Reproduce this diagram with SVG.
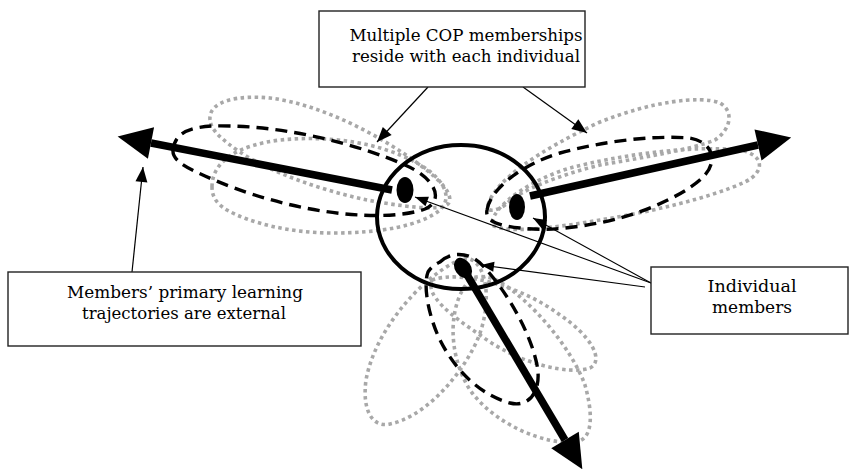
<svg xmlns="http://www.w3.org/2000/svg" width="849" height="469" viewBox="0 0 849 469">
<style>
.box{fill:#fff;stroke:#222;stroke-width:1.4}
.txt{font-family:"DejaVu Serif","Liberation Serif",serif;font-size:17px;fill:#000;text-anchor:middle}
.dot{fill:none;stroke:#a8a8a8;stroke-width:3.6;stroke-dasharray:3.5 3.5}
.dash{fill:none;stroke:#000;stroke-width:3.4;stroke-dasharray:12 7}
.thick{stroke:#000;stroke-width:7.5;fill:none;marker-end:url(#big)}
.thin{stroke:#000;stroke-width:1.2;fill:none;marker-end:url(#sm)}
.thin2{stroke:#000;stroke-width:1.1;fill:none;marker-end:url(#xs)}
</style>
<defs>
<marker id="big" markerUnits="userSpaceOnUse" markerWidth="36" markerHeight="34" refX="0" refY="16" orient="auto" overflow="visible">
<path d="M0,0 L34,16 L0,32 Z" fill="#000"/>
</marker>
<marker id="sm" markerUnits="userSpaceOnUse" markerWidth="16" markerHeight="12" refX="15" refY="6" orient="auto" overflow="visible">
<path d="M0,0 L15,6 L0,12 Z" fill="#000"/>
</marker>
<marker id="xs" markerUnits="userSpaceOnUse" markerWidth="13" markerHeight="10" refX="13" refY="5" orient="auto" overflow="visible">
<path d="M0,0 L13,5 L0,10 Z" fill="#000"/>
</marker>
</defs>
<rect width="849" height="469" fill="#fff"/>

<g id="cop-loops">
<path class="dot" d="M210,120 C208,100 240,95 270,98 C320,104 380,135 420,165 C440,180 455,195 448,204 C440,212 400,206 367,200 C320,190 270,172 240,152 C222,140 211,130 210,120 Z"/>
<path class="dot" d="M212,187 C212,160 240,145 280,140 C330,135 380,143 415,162 C440,175 455,195 440,210 C420,226 380,233 333,233 C290,233 250,223 227,210 C215,203 212,195 212,187 Z"/>
<path class="dash" d="M173,150 C175,128 200,125 230,126 C290,127 360,145 405,165 C435,178 445,200 425,209 C405,216 380,216 360,215 C300,212 240,192 205,176 C185,167 172,160 173,150 Z"/>
<path class="dot" d="M488,205 C495,180 540,150 600,122 C650,102 700,95 720,103 C735,112 730,130 715,140 C690,150 640,158 600,165 C560,175 520,190 505,205 C495,212 486,212 488,205 Z"/>
<path class="dot" d="M492,222 C495,205 530,180 570,168 C620,155 690,145 740,150 C765,155 765,172 745,182 C710,198 650,212 600,220 C560,227 520,232 500,228 C492,226 490,224 492,222 Z"/>
<path class="dash" d="M487,210 C490,190 520,165 560,153 C600,142 650,135 690,138 C712,142 718,160 705,175 C690,192 650,210 620,218 C590,226 550,232 520,228 C495,225 485,220 487,210 Z"/>
<path class="dot" d="M455,262 C420,280 375,330 366,380 C362,410 372,428 390,424 C420,418 455,385 475,345 C490,315 490,275 475,262 C468,256 460,258 455,262 Z"/>
<path class="dot" d="M432,280 C460,270 520,285 560,315 C590,335 605,360 590,368 C570,375 520,365 480,335 C450,315 425,295 432,280 Z"/>
<path class="dot" d="M470,280 C450,300 445,350 470,390 C495,425 545,445 575,442 C595,440 592,410 585,385 C570,345 530,300 500,282 C488,275 476,275 470,280 Z"/>
<path class="dash" d="M440,262 C450,252 470,250 485,268 C505,290 530,330 537,365 C542,390 530,408 510,403 C480,395 455,370 440,340 C428,315 423,285 428,272 C432,266 436,264 440,262 Z"/>
</g>

<g id="community">
<ellipse cx="461" cy="217" rx="84" ry="72" fill="none" stroke="#000" stroke-width="4"/>
</g>

<g id="trajectories">
<line class="thick" x1="392" y1="190" x2="151" y2="143"/>
<line class="thick" x1="530" y1="196" x2="758" y2="145"/>
<line class="thick" x1="463" y1="268" x2="565" y2="440"/>
</g>

<g id="individuals">
<ellipse cx="405" cy="190" rx="8.5" ry="13" fill="#000"/>
<ellipse cx="517" cy="207" rx="8" ry="13" fill="#000"/>
<ellipse cx="463" cy="268" rx="8" ry="11" fill="#000" transform="rotate(-35 463 268)"/>
</g>

<g id="connectors">
<line class="thin" x1="428" y1="87" x2="377" y2="142"/>
<line class="thin" x1="523" y1="87" x2="587" y2="133"/>
<line class="thin" x1="132" y1="272" x2="143" y2="167"/>
<line class="thin2" x1="651" y1="283" x2="415" y2="197"/>
<line class="thin2" x1="651" y1="283" x2="533" y2="218"/>
<line class="thin2" x1="645" y1="287" x2="481" y2="265"/>
</g>

<g id="box-cop">
<rect class="box" x="319" y="11" width="266" height="76"/>
<text class="txt" x="466" y="41" textLength="233" lengthAdjust="spacingAndGlyphs">Multiple COP memberships</text>
<text class="txt" x="466" y="62" textLength="228" lengthAdjust="spacingAndGlyphs">reside with each individual</text>
</g>

<g id="box-trajectories">
<rect class="box" x="8" y="272" width="353" height="74"/>
<text class="txt" x="185" y="298" textLength="236" lengthAdjust="spacingAndGlyphs">Members’ primary learning</text>
<text class="txt" x="184" y="319" textLength="204" lengthAdjust="spacingAndGlyphs">trajectories are external</text>
</g>

<g id="box-individuals">
<rect class="box" x="651" y="267" width="197" height="67"/>
<text class="txt" x="752" y="292" textLength="89" lengthAdjust="spacingAndGlyphs">Individual</text>
<text class="txt" x="752" y="313" textLength="80" lengthAdjust="spacingAndGlyphs">members</text>
</g>
</svg>
